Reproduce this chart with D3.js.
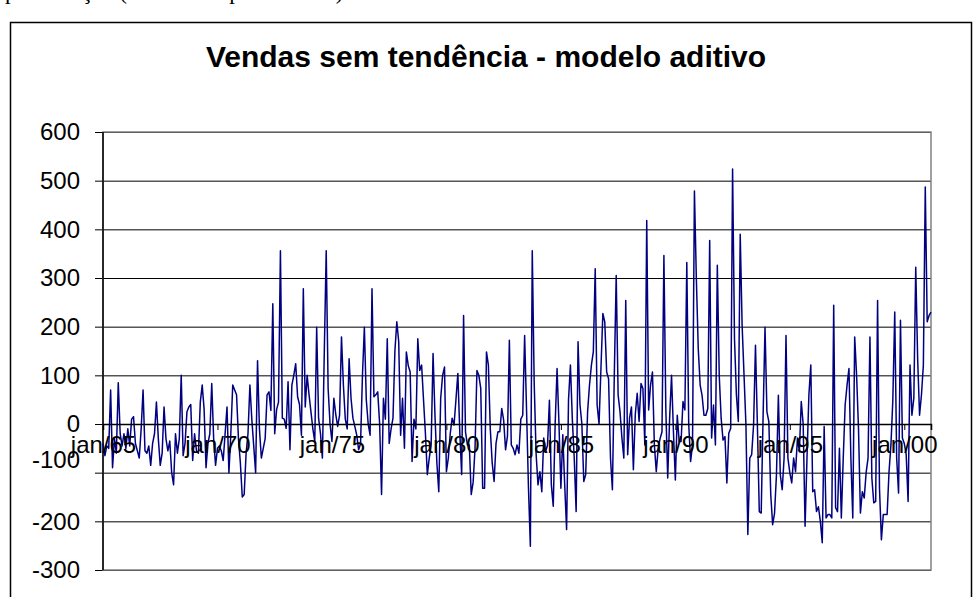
<!DOCTYPE html>
<html>
<head>
<meta charset="utf-8">
<script src="https://cdn.jsdelivr.net/npm/d3@7"></script>
<style>
  body { margin: 0; background: #fff; }
  svg { display: block; }
  text { font-family: "Liberation Sans", Arial, sans-serif; }
</style>
</head>
<body>
<div id="chart"></div>
<script>
//Monthly values, one array per 5 years (jan/65 .. mar/01)
var vendas1965 = [-40, -65, -45, -50, 70, -90, -30, -60, 85, -20,
    -45, -20, -50, -10, -45, 10, 15, -40, -55, -70,
    -10, 70, -55, -60, -45, -85, -40, -20, 45, -30,
    -85, -60, 35, -30, -55, -35, -100, -125, -20, -60,
    -30, 100, -65, -40, 25, 35, 40, -75, -20, -55,
    -60, 45, 80, 30, -90, -40, -20, 83, -30, -85];
var vendas1970 = [-50, -45, -55, -75, -20, 35, -100, -20, 80, 70,
    60, -30, -80, -150, -145, -60, -20, 80, 10, -45,
    -100, 130, -10, -70, -50, -30, 60, 66, 28, 247,
    -20, 30, 45, 356, 12, 10, -9, 87, -53, 80,
    100, 124, 56, 40, -23, 278, 35, 100, 60, 25,
    -10, -36, 199, 12, -20, -70, 150, 356, 73, 0];
var vendas1975 = [-36, 53, 20, -5, 18, 179, 80, 10, -10, 134,
    53, 12, -5, -23, -53, -40, 100, 199, 50, 0,
    -23, 278, 56, 60, 66, 0, -145, 53, 10, 175,
    -40, -10, 12, 150, 210, 169, -23, 53, -50, 148,
    120, 107, -77, 10, -10, 175, 110, 121, 50, -20,
    -104, -70, -43, 145, 18, -80, -139, 53, 100, 117];
var vendas1980 = [-98, -70, -20, 12, -2, 50, 104, -16, -104, 223,
    -16, -43, -43, -145, -120, -50, 110, 100, 73, -132,
    -132, 148, 121, -10, -80, -118, -40, -16, -16, 32,
    8, -53, -25, 172, -43, -50, -63, -43, -60, 10,
    18, 182, 30, -130, -251, 356, 87, -60, -125, -98,
    -139, -29, -57, -43, 49, -125, -169, 0, 114, 0];
var vendas1985 = [-132, -22, -125, -217, 50, 121, 10, -70, -180, 169,
    40, 0, -118, -104, 25, 80, 121, 148, 319, 39,
    0, 114, 227, 210, 107, 93, -70, -135, 100, 305,
    60, 25, -29, -70, 254, -63, 12, 35, -94, 20,
    63, 5, 83, 73, -43, 418, 29, 80, 107, -43,
    -98, -50, -30, -16, 346, 32, -111, 12, 100, -16];
var vendas1990 = [-115, 18, -36, -36, 46, 29, 332, 0, -77, -43,
    479, 300, 155, 80, 59, 18, 18, 32, 377, -29,
    39, -43, 326, 100, 12, -33, -26, -121, -19, -9,
    524, 175, 60, 5, 390, 203, 100, -2, -227, -70,
    -63, -2, 162, -2, -180, -183, 18, 199, 25, 5,
    -145, -207, -183, -104, 59, -104, -135, -70, 182, -70];
var vendas1995 = [-100, -121, -70, -98, -29, -57, 46, 0, -210, -70,
    60, 121, -139, -135, -180, -170, -200, -244, -5, -193,
    -186, -186, -193, 244, -172, -180, -50, -193, -70, 39,
    80, 114, -70, -193, 179, 100, -10, -183, -139, -152,
    -100, -70, 179, -111, -162, -159, 254, -132, -238, -186,
    -186, -186, -98, -43, 50, 230, -70, -142, 213, -29];
var vendas2000 = [-40, -63, -159, 121, 18, 53, 322, 134, 18, 60,
    121, 487, 210, 223, 230];

var xTickLabels = ["jan/65", "jan/70", "jan/75", "jan/80", "jan/85", "jan/90", "jan/95", "jan/00"];
var yTicks = [-300, -200, -100, 0, 100, 200, 300, 400, 500, 600];

var vendas = [].concat(vendas1965, vendas1970, vendas1975, vendas1980,
    vendas1985, vendas1990, vendas1995, vendas2000);

//Define SVG area
var svgWidth = 976;
var svgHeight = 597;

var chartMargin = {
    top: 132,
    right: 45,
    bottom: 27,
    left: 103
};

var chartWidth = svgWidth - chartMargin.left - chartMargin.right;
var chartHeight = svgHeight - chartMargin.top - chartMargin.bottom;

var svg = d3
    .select("#chart")
    .append("svg")
    .attr("height", svgHeight)
    .attr("width", svgWidth);

//Text of the page above the chart, mostly cut off
svg.append("text")
    .attr("x", 5)
    .attr("y", -1)
    .attr("font-size", "23px")
    .attr("fill", "#000")
    .style("font-family", "'Liberation Serif', 'Times New Roman', serif")
    .text("presentação (ver o exemplo anterior)");

//Chart area border
svg.append("rect")
    .attr("x", 10.5)
    .attr("y", 22.5)
    .attr("width", 961)
    .attr("height", 620)
    .attr("fill", "none")
    .attr("stroke", "#000")
    .attr("stroke-width", 1.5);

//Title
svg.append("text")
    .attr("x", 486)
    .attr("y", 67)
    .attr("text-anchor", "middle")
    .attr("font-size", "30px")
    .attr("font-weight", "bold")
    .text("Vendas sem tendência - modelo aditivo");

var chartGroup = svg.append("g")
    .attr("transform", `translate(${chartMargin.left}, ${chartMargin.top})`);

//Scales
var xLinearScale = d3.scaleLinear()
    .domain([0, vendas.length - 1])
    .range([0, chartWidth]);

var yLinearScale = d3.scaleLinear()
    .domain([-300, 600])
    .range([chartHeight, 0]);

//Gridlines + left axis
var leftAxis = d3.axisLeft(yLinearScale)
    .tickValues(yTicks)
    .tickSize(-chartWidth)
    .tickPadding(23)
    .tickFormat(d => String(d));

var yAxis = chartGroup.append("g")
    .classed("y-axis", true)
    .call(leftAxis);

yAxis.select(".domain").remove();
yAxis.selectAll(".tick line")
    .attr("stroke", "#000")
    .attr("x1", -8);
yAxis.selectAll(".tick text")
    .attr("font-size", "24px")
    .attr("fill", "#000");

//the -100 label sits a bit higher in the original, over the jan/65 label
yAxis.selectAll(".tick text")
    .filter(d => d === -100)
    .attr("dy", "-0.22em");

//Plot area border
chartGroup.append("rect")
    .attr("x", 0)
    .attr("y", 0)
    .attr("width", chartWidth)
    .attr("height", chartHeight)
    .attr("fill", "none")
    .attr("stroke", "#808080")
    .attr("stroke-width", 1.5);

chartGroup.append("line")
    .attr("x1", 0)
    .attr("x2", 0)
    .attr("y1", 0)
    .attr("y2", chartHeight)
    .attr("stroke", "#000")
    .attr("stroke-width", 1.5);

//Bottom axis sits on zero
var bottomAxis = d3.axisBottom(xLinearScale)
    .tickValues(xTickLabels.map((d, i) => i * 60))
    .tickSize(6)
    .tickPadding(6)
    .tickFormat((d, i) => xTickLabels[i]);

var xAxis = chartGroup.append("g")
    .classed("x-axis", true)
    .attr("transform", `translate(0, ${yLinearScale(0)})`)
    .call(bottomAxis);

xAxis.select(".domain").attr("stroke", "#000").attr("stroke-width", 1.5);
xAxis.selectAll(".tick line").attr("stroke", "#000");
xAxis.selectAll(".tick text")
    .attr("font-size", "24px")
    .attr("fill", "#000");

//Series line
var line = d3.line()
    .x((d, i) => xLinearScale(i))
    .y(d => yLinearScale(d));

chartGroup.append("path")
    .datum(vendas)
    .attr("d", line)
    .attr("fill", "none")
    .attr("stroke", "#000080")
    .attr("stroke-width", 1.5)
    .attr("stroke-linejoin", "round");

//Labels drawn on top of the line like in the original
xAxis.raise();
</script>
</body>
</html>
